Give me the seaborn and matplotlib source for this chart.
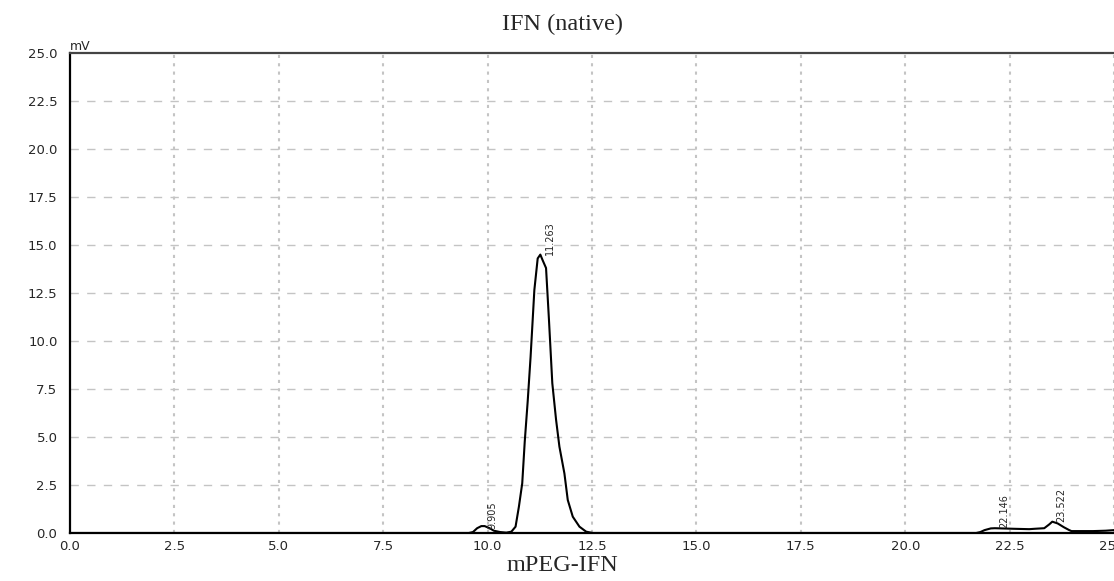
import matplotlib
matplotlib.use("Agg")
import matplotlib.pyplot as plt
import seaborn as sns
import pandas as pd
from matplotlib.ticker import MultipleLocator

# chromatogram trace (retention time in min, signal in mV)
time_min = [0.0, 9.55, 9.65, 9.75, 9.85, 9.93, 10.05, 10.15, 10.3, 10.45,
            10.57, 10.67, 10.75, 10.83, 10.89, 10.96, 11.03, 11.08, 11.12, 11.2,
            11.263, 11.32, 11.4, 11.47, 11.55, 11.64, 11.72, 11.84, 11.92, 12.04,
            12.2, 12.36, 12.52, 21.7, 21.8, 21.9, 22.05, 22.146, 22.6, 22.97,
            23.1, 23.33, 23.45, 23.522, 23.65, 23.8, 23.92, 23.98, 24.5, 24.8, 25.0]
signal_mv = [0.0, 0.0, 0.05, 0.25, 0.36, 0.36, 0.25, 0.12, 0.05, 0.02,
             0.07, 0.33, 1.37, 2.59, 4.76, 6.84, 9.18, 11.1, 12.65, 14.3,
             14.5, 14.2, 13.8, 11.1, 7.8, 5.9, 4.5, 3.1, 1.72, 0.85,
             0.33, 0.07, 0.0, 0.0, 0.05, 0.15, 0.24, 0.25, 0.22, 0.2,
             0.22, 0.25, 0.45, 0.59, 0.5, 0.3, 0.16, 0.1, 0.1, 0.12, 0.15]

peak_rt = [9.905, 11.263, 22.146, 23.522]
peak_mv = [0.2, 14.5, 0.25, 0.59]
peak_labels = ["9.905", "11.263", "22.146", "23.522"]

x_ticks = [0.0, 2.5, 5.0, 7.5, 10.0, 12.5, 15.0, 17.5, 20.0, 22.5, 25.0]
y_ticks = [0.0, 2.5, 5.0, 7.5, 10.0, 12.5, 15.0, 17.5, 20.0, 22.5, 25.0]

df = pd.DataFrame({"time": time_min, "mV": signal_mv})

sns.set_style("white")
plt.rcParams["font.family"] = ["DejaVu Sans"]

fig = plt.figure(figsize=(11.14, 5.81), dpi=100)
ax = fig.add_axes([0.0628, 0.0826, 0.9372, 0.8262])

sns.lineplot(data=df, x="time", y="mV", color="black", linewidth=1.5, ax=ax, zorder=3)

ax.set_xlim(0, 25)
ax.set_ylim(0, 25)
ax.set_xticks(x_ticks)
ax.set_yticks(y_ticks)
ax.set_xticklabels([f"{v:.1f}" for v in x_ticks], fontsize=9.5)
ax.set_yticklabels([f"{v:.1f}" for v in y_ticks], fontsize=9.5)
ax.xaxis.set_minor_locator(MultipleLocator(0.5))
ax.yaxis.set_minor_locator(MultipleLocator(0.5))
ax.tick_params(axis="y", which="major", direction="out", length=8, width=1.4, pad=1)
ax.tick_params(axis="y", which="minor", direction="out", length=5, width=1.4)
ax.tick_params(axis="x", which="major", direction="out", length=4, width=1.4, pad=1)
ax.tick_params(axis="x", which="minor", direction="out", length=2.5, width=1.4)
ax.set_xlabel("")
ax.set_ylabel("")

for y in y_ticks[1:-1]:
    ax.axhline(y, color="#c4c4c4", linestyle=(0, (6, 6)), linewidth=1, zorder=1)
for x in x_ticks[1:]:
    ax.axvline(x, color="#c4c4c4", linestyle=(0, (1.5, 2.5)), linewidth=1.5, zorder=1)

for side in ["left", "bottom"]:
    ax.spines[side].set_color("black")
    ax.spines[side].set_linewidth(1.6)
ax.spines["top"].set_color("#444444")
ax.spines["top"].set_linewidth(1.6)
ax.spines["right"].set_visible(False)

for rt, h, lab in zip(peak_rt, peak_mv, peak_labels):
    ax.annotate(lab, xy=(rt, h), xytext=(3, 0), textcoords="offset points",
                rotation=90, ha="left", va="bottom", fontsize=7, zorder=4)

ax.text(0.0, 1.0, "mV", transform=ax.transAxes, ha="left", va="bottom", fontsize=9)

fig.text(0.505, 0.958, "IFN (native)", ha="center", va="center",
         fontsize=17.5, family="Liberation Serif")
fig.text(0.505, 0.027, "mPEG-IFN", ha="center", va="center",
         fontsize=17.5, family="Liberation Serif")

fig.savefig("out.png", dpi=100)
